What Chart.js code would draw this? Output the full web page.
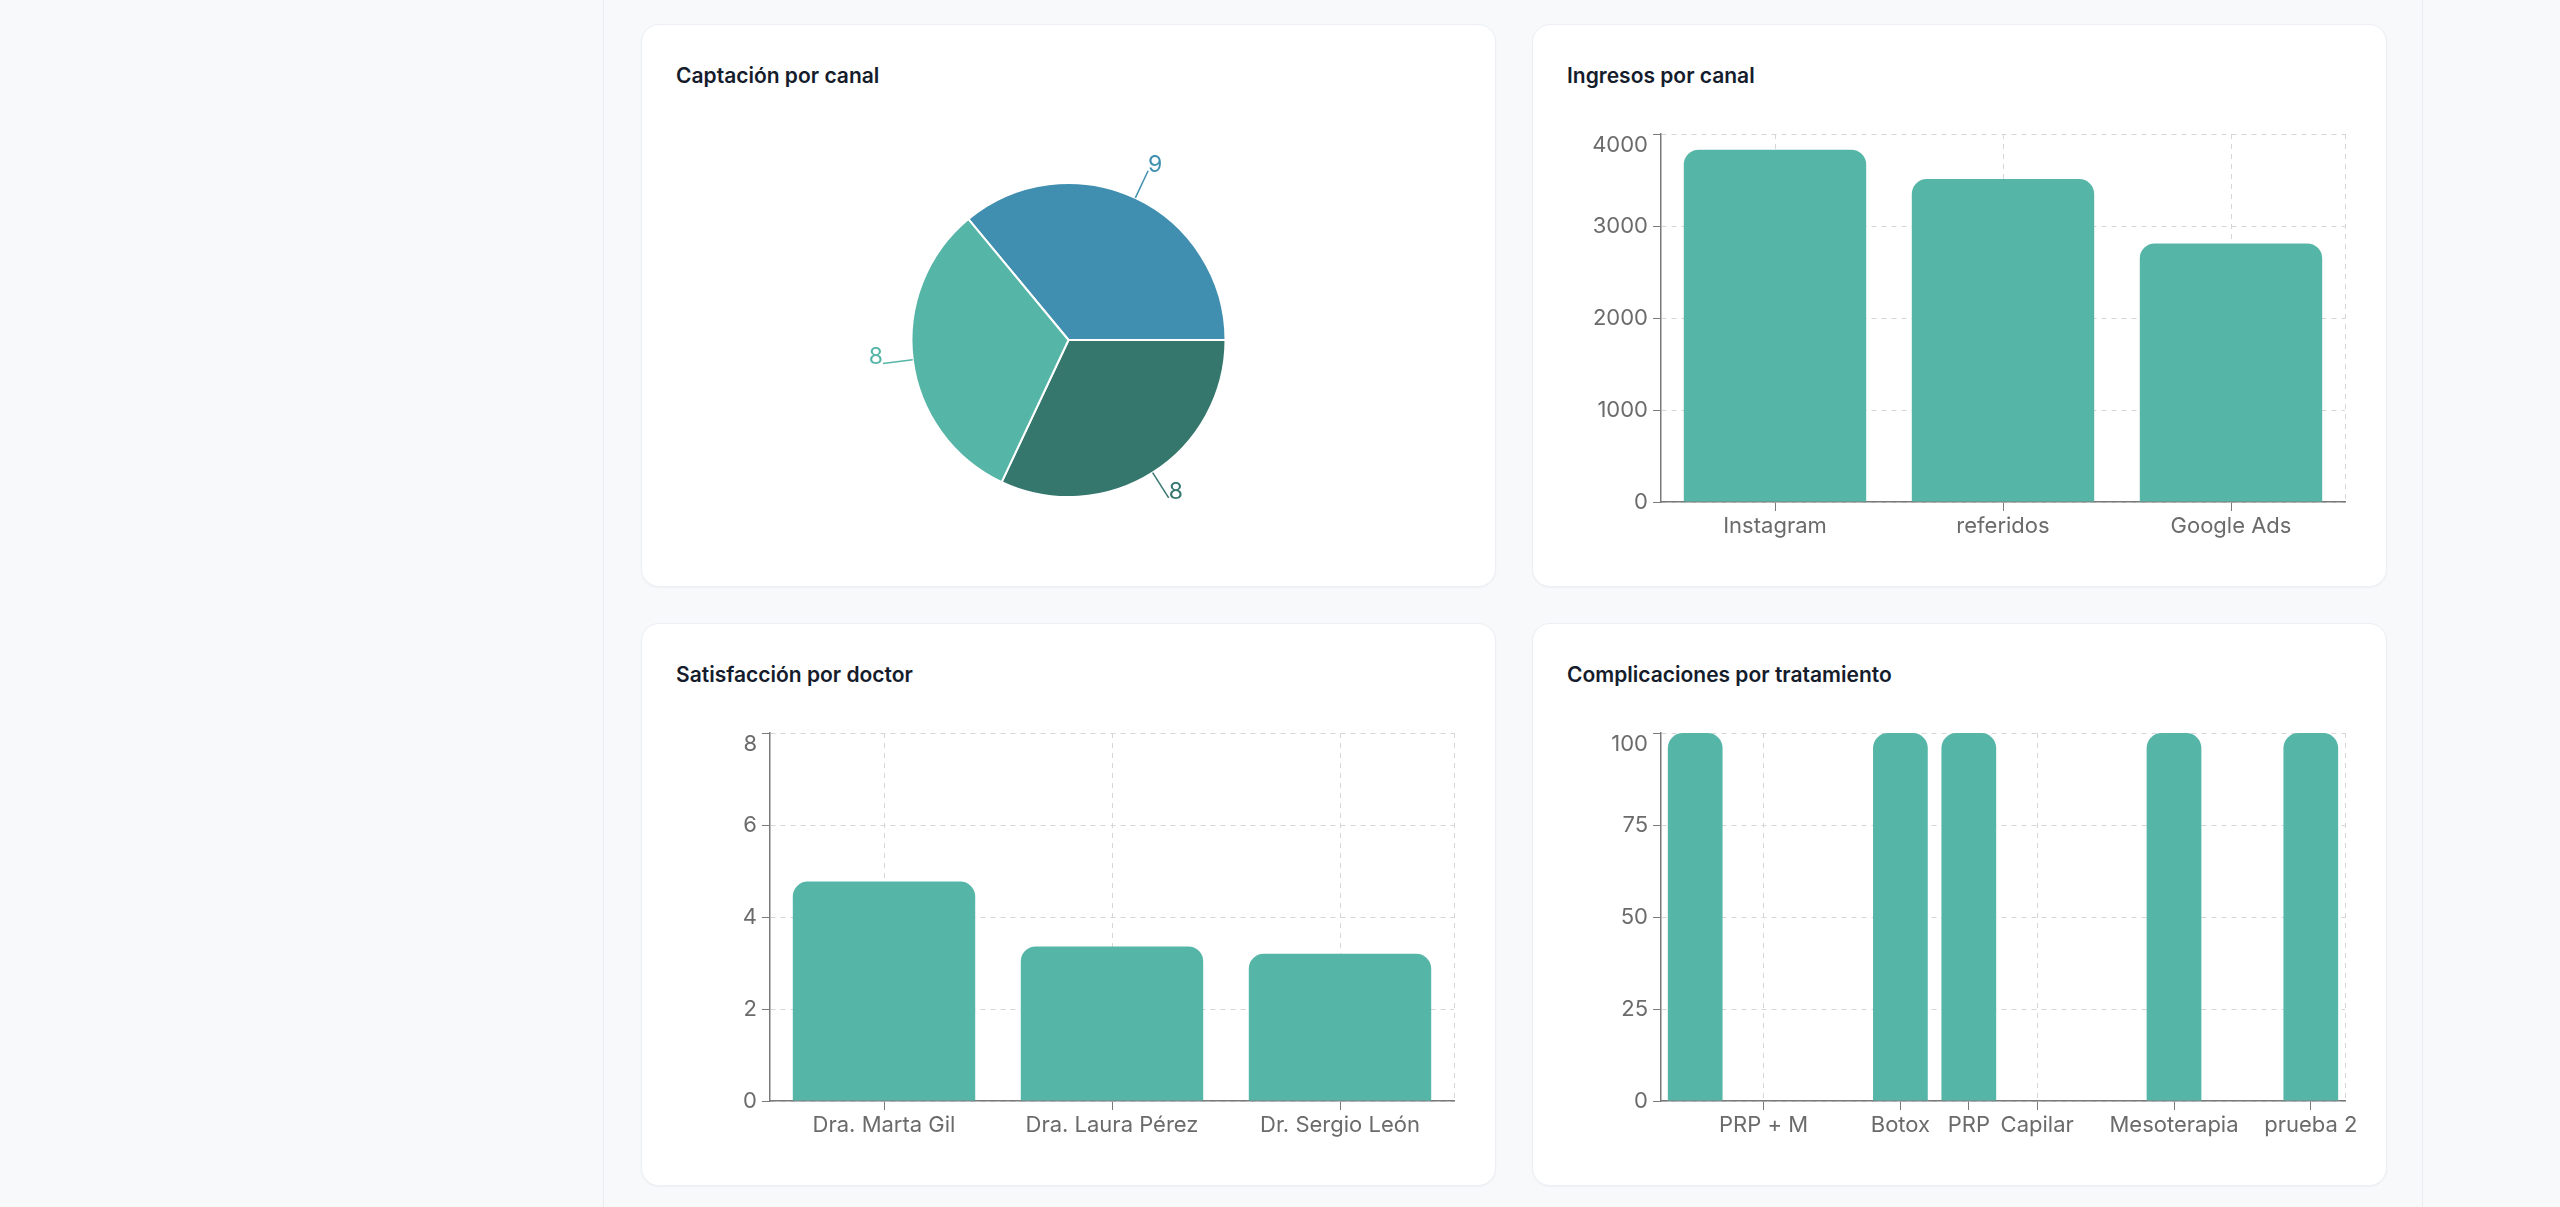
<!DOCTYPE html>
<html lang="es">
<head>
<meta charset="utf-8">
<title>Panel</title>
<script src="https://cdn.jsdelivr.net/npm/chart.js@4.4.1/dist/chart.umd.min.js"></script>
<style>
  html, body { margin: 0; padding: 0; }
  body { width: 2560px; height: 1207px; background: #f8f9fb; position: relative; overflow: hidden; font-family: Inter, sans-serif; }
  .columna { position: absolute; left: 603px; top: 0; width: 1820px; height: 1207px; box-sizing: border-box; border-left: 1px solid #eaecf0; border-right: 1px solid #eaecf0; }
  .card { position: absolute; width: 855px; height: 563px; background: #fff; border: 1px solid #eceff3; border-radius: 18px; box-sizing: border-box; box-shadow: 0 1px 2px rgba(16, 24, 40, 0.04); }
  .titulo { position: absolute; left: 34px; top: 37px; font: 600 21px/28px Inter, sans-serif; color: #151c2c; }
  .lienzo { position: absolute; left: 35px; top: 95px; width: 809px; height: 432px; }
  .lienzo.pastel { width: 783px; height: 440px; }
</style>
</head>
<body>
<div class="columna"></div>

<div class="card" style="left:641px; top:24px">
  <div class="titulo">Captación por canal</div>
  <div class="lienzo pastel"><canvas id="captacion"></canvas></div>
</div>
<div class="card" style="left:1532px; top:24px">
  <div class="titulo">Ingresos por canal</div>
  <div class="lienzo"><canvas id="ingresos"></canvas></div>
</div>
<div class="card" style="left:641px; top:623px">
  <div class="titulo">Satisfacción por doctor</div>
  <div class="lienzo"><canvas id="satisfaccion"></canvas></div>
</div>
<div class="card" style="left:1532px; top:623px">
  <div class="titulo">Complicaciones por tratamiento</div>
  <div class="lienzo"><canvas id="complicaciones"></canvas></div>
</div>

<script>
// datos
const captacionCanales = ["Instagram", "Google Ads", "referidos"];
const captacionValores = [9, 8, 8];
const captacionColores = ["#418fb0", "#36776d", "#55b5a7"];

const canales = ["Instagram", "referidos", "Google Ads"];
const ingresos = [3830, 3510, 2810];
const ticksIngresos = [0, 1000, 2000, 3000, 4000];

const doctores = ["Dra. Marta Gil", "Dra. Laura Pérez", "Dr. Sergio León"];
const satisfaccion = [4.77, 3.36, 3.2];
const ticksSatisfaccion = [0, 2, 4, 6, 8];

// las etiquetas vacias no se ven en el original
const tratamientos = ["", "PRP + M", "", "Botox", "PRP", "Capilar", "", "Mesoterapia", "", "prueba 2"];
const complicaciones = [100, 0, 0, 100, 100, 0, 0, 100, 0, 100];
const ticksComplicaciones = [0, 25, 50, 75, 100];

const colorBarra = "#55b5a7";
const colorGrid = "#d6d6d6";
const colorEje = "#7a7a7a";
const colorTexto = "#6b6b6b";

Chart.defaults.font.family = "Inter, sans-serif";
Chart.defaults.animation = false;

// borde derecho punteado de la rejilla
const bordeDerecho = {
  id: "bordeDerecho",
  beforeDatasetsDraw(chart) {
    const { ctx, chartArea } = chart;
    const x = Math.round(chartArea.right) + 0.5;
    ctx.save();
    ctx.strokeStyle = colorGrid;
    ctx.lineWidth = 1;
    ctx.setLineDash([5, 5]);
    ctx.beginPath();
    ctx.moveTo(x, chartArea.top);
    ctx.lineTo(x, chartArea.bottom);
    ctx.stroke();
    ctx.restore();
  }
};

// etiquetas con linea fuera del pastel
const etiquetasPastel = {
  id: "etiquetasPastel",
  afterDatasetsDraw(chart) {
    const { ctx } = chart;
    const meta = chart.getDatasetMeta(0);
    const valores = chart.data.datasets[0].data;
    meta.data.forEach((arc, i) => {
      const mid = (arc.startAngle + arc.endAngle) / 2;
      const r = arc.outerRadius;
      const x1 = arc.x + Math.cos(mid) * r;
      const y1 = arc.y + Math.sin(mid) * r;
      const x2 = arc.x + Math.cos(mid) * (r + 30);
      const y2 = arc.y + Math.sin(mid) * (r + 30);
      const color = captacionColores[i];
      ctx.save();
      ctx.strokeStyle = color;
      ctx.lineWidth = 1.5;
      ctx.beginPath();
      ctx.moveTo(x1, y1);
      ctx.lineTo(x2, y2);
      ctx.stroke();
      ctx.fillStyle = color;
      ctx.font = "400 23px Inter, sans-serif";
      ctx.textAlign = Math.cos(mid) >= 0 ? "left" : "right";
      ctx.textBaseline = "alphabetic";
      ctx.fillText(String(valores[i]), x2, y2 + 1);
      ctx.restore();
    });
  }
};

new Chart(document.getElementById("captacion"), {
  type: "pie",
  data: {
    labels: captacionCanales,
    datasets: [{
      data: captacionValores,
      backgroundColor: captacionColores,
      borderColor: "#ffffff",
      borderWidth: 2
    }]
  },
  options: {
    responsive: true,
    maintainAspectRatio: false,
    rotation: -39.6,
    radius: 157,
    layout: { padding: 0 },
    plugins: { legend: { display: false }, tooltip: { enabled: false } }
  },
  plugins: [etiquetasPastel]
});

function graficoBarras(id, etiquetas, valores, ticksY) {
  return new Chart(document.getElementById(id), {
    type: "bar",
    data: {
      labels: etiquetas,
      datasets: [{
        data: valores,
        backgroundColor: colorBarra,
        borderRadius: { topLeft: 15, topRight: 15, bottomLeft: 0, bottomRight: 0 },
        borderSkipped: "start",
        categoryPercentage: 0.8,
        barPercentage: 1.0
      }]
    },
    options: {
      responsive: true,
      maintainAspectRatio: false,
      layout: { padding: { top: 14, right: 32, bottom: 0, left: 0 } },
      plugins: { legend: { display: false }, tooltip: { enabled: false } },
      scales: {
        x: {
          grid: {
            offset: false,
            color: c => etiquetas[c.index] ? colorGrid : "transparent",
            tickColor: c => etiquetas[c.index] ? colorEje : "transparent",
            tickLength: 9,
            lineWidth: 1
          },
          border: { color: colorEje, width: 1.5, dash: [5, 5] },
          ticks: {
            autoSkip: false,
            maxRotation: 0,
            minRotation: 0,
            padding: 2,
            color: colorTexto,
            font: { size: 22 }
          },
          afterFit: s => { s.height = 50; s.paddingLeft = 0; s.paddingRight = 0; }
        },
        y: {
          min: ticksY[0],
          max: ticksY[ticksY.length - 1],
          afterBuildTicks: s => { s.ticks = ticksY.map(v => ({ value: v })); },
          grid: {
            color: colorGrid,
            tickColor: colorEje,
            tickLength: 8,
            lineWidth: 1
          },
          border: { color: colorEje, width: 1.5, dash: [5, 5] },
          ticks: {
            padding: 5,
            color: colorTexto,
            font: { size: 22, lineHeight: 1.0 },
            // la etiqueta superior queda por debajo de la linea, como en el original
            callback: (v, i, t) => i === t.length - 1 ? ["", String(v)] : String(v)
          },
          afterFit: s => { s.width = 93; s.paddingTop = 0; s.paddingBottom = 0; }
        }
      }
    },
    plugins: [bordeDerecho]
  });
}

graficoBarras("ingresos", canales, ingresos, ticksIngresos);
graficoBarras("satisfaccion", doctores, satisfaccion, ticksSatisfaccion);
graficoBarras("complicaciones", tratamientos, complicaciones, ticksComplicaciones);
</script>
</body>
</html>
